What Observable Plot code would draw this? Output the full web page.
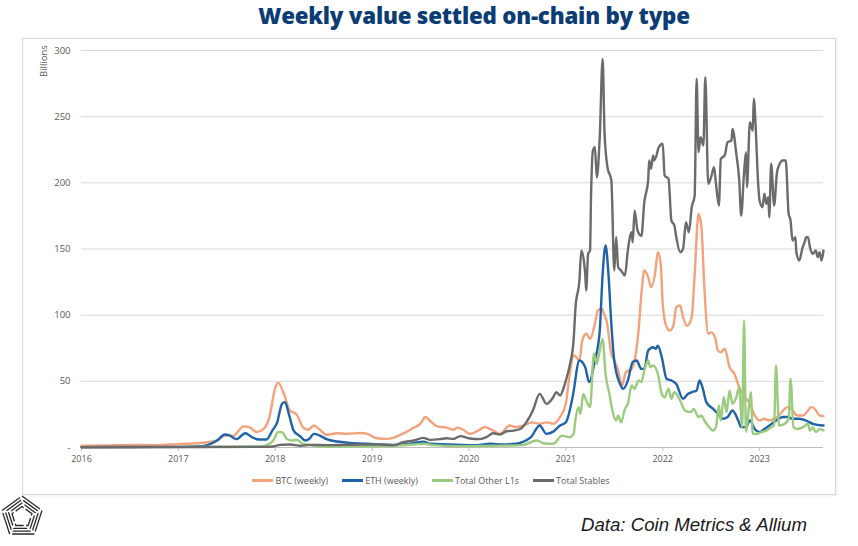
<!DOCTYPE html>
<html>
<head>
<meta charset="utf-8">
<script src="https://cdn.jsdelivr.net/npm/d3@7"></script>
<script src="https://cdn.jsdelivr.net/npm/@observablehq/plot@0.6"></script>
<style>
  html, body { margin: 0; padding: 0; background: #ffffff; }
  #wrap { position: relative; width: 858px; height: 546px; overflow: hidden; font-family: "Open Sans", sans-serif; }
  #frame { position: absolute; left: 22px; top: 38px; width: 812px; height: 455px; border: 1px solid #D9D9D9; box-shadow: 1px 1px 2px rgba(0,0,0,0.08); }
  #title { position: absolute; left: 90px; width: 768px; top: 0px; text-align: center; font-family: "Open Sans", sans-serif; font-weight: 800; font-size: 22.3px; color: #0B3C74; letter-spacing: -0.2px; }
  #chart { position: absolute; left: 0; top: 0; }
  #ylabel { position: absolute; left: 37px; top: 53px; font-size: 9.5px; color: #595959; transform-origin: left top; transform: translate(0, 24px) rotate(-90deg); white-space: nowrap; }
  #legend { position: absolute; top: 474px; left: 0; width: 862px; display: flex; justify-content: center; gap: 14px; font-size: 9px; color: #595959; }
  .item { display: flex; align-items: center; gap: 2px; }
  .swatch { width: 21px; height: 3px; }
  #caption { position: absolute; left: 578px; top: 507px; }
  #logo { position: absolute; left: 0; top: 492px; }
</style>
</head>
<body>
<div id="wrap">
  <div id="frame"></div>
  <div id="title">Weekly value settled on-chain by type</div>
  <div id="chart"></div>
  <div id="ylabel">Billions</div>
  <div id="legend"></div>
  <svg id="caption" width="240" height="34"><text x="3" y="24" font-family="'Liberation Sans Narrow', 'Arial Narrow', 'Liberation Sans', sans-serif" font-style="italic" font-size="19" fill="#1a1a1a" textLength="226" lengthAdjust="spacingAndGlyphs">Data: Coin Metrics &amp; Allium</text></svg>
  <svg id="logo" width="48" height="50" viewBox="0 0 48 50"></svg>
</div>
<script>
// ---- data (decimal year, billions USD) ----
const seriesNames = ["BTC (weekly)", "ETH (weekly)", "Total Other L1s", "Total Stables"];
const seriesColors = ["#F4A27B", "#1F62A8", "#9ACB7E", "#6B6B6B"];
const yearTicks = [2016, 2017, 2018, 2019, 2020, 2021, 2022, 2023];
const valueTicks = [0, 50, 100, 150, 200, 250, 300];

const btc = [
[2016.00,1.3],[2016.25,1.6],[2016.5,2],[2016.75,1.8],[2017.0,2.5],[2017.15,3],[2017.3,4],[2017.4,5.3],
[2017.48,9],[2017.57,9],[2017.67,16],[2017.74,15],[2017.81,11.6],[2017.88,14],[2017.94,23],[2018.0,45],
[2018.03,49],[2018.09,40.5],[2018.15,28],[2018.22,25],[2018.29,15],[2018.34,13.4],[2018.4,16.6],[2018.46,13.4],
[2018.53,9.6],[2018.64,10.8],[2018.74,10.3],[2018.88,11],[2018.95,10.3],[2019.05,7],[2019.15,6.5],[2019.22,7.3],
[2019.29,9.5],[2019.36,12],[2019.43,15],[2019.5,18],[2019.55,23],[2019.6,20],[2019.67,16],[2019.77,15],
[2019.84,13.4],[2019.88,15],[2019.94,13.4],[2020.01,10.3],[2020.1,13],[2020.16,15.4],[2020.25,12.8],[2020.32,10.3],
[2020.42,16.6],[2020.49,15.4],[2020.56,16.6],[2020.65,19],[2020.73,17.9],[2020.8,19],[2020.87,18],[2020.94,23],
[2021.0,33],[2021.03,50],[2021.07,68],[2021.09,69.5],[2021.14,65.7],[2021.17,80.9],[2021.21,86],[2021.25,82],
[2021.3,93.5],[2021.33,103.5],[2021.37,104.8],[2021.4,99.7],[2021.42,96],[2021.47,70.8],[2021.5,65.7],[2021.54,58.2],
[2021.58,46.9],[2021.62,57],[2021.68,59.4],[2021.71,65.7],[2021.75,88],[2021.78,116],[2021.81,133.8],[2021.85,128.7],
[2021.88,121],[2021.92,131],[2021.95,147.6],[2021.98,138.8],[2022.0,108.6],[2022.04,91],[2022.07,88.4],[2022.11,92],
[2022.14,106],[2022.18,107.3],[2022.21,98.5],[2022.25,92],[2022.3,98.5],[2022.33,131],[2022.37,176.6],[2022.4,166.5],
[2022.43,121],[2022.47,86],[2022.5,87],[2022.54,83.4],[2022.57,73.3],[2022.6,72],[2022.64,74.6],[2022.69,60.7],
[2022.74,55.7],[2022.79,45.6],[2022.85,38],[2022.9,33],[2022.95,24.2],[2023.0,20.4],[2023.05,21.7],[2023.1,20.4],
[2023.15,21.7],[2023.2,24.2],[2023.26,29.2],[2023.29,30.5],[2023.34,28],[2023.39,24.2],[2023.45,24.2],[2023.5,28],
[2023.53,30.5],[2023.57,29.2],[2023.62,24.2],[2023.66,23.7]
];

const eth = [
[2016.0,0.3],[2016.5,0.4],[2017.0,0.5],[2017.2,0.7],[2017.3,1.8],[2017.4,5.3],[2017.48,9.8],[2017.52,9.3],
[2017.6,6.3],[2017.69,10.8],[2017.76,7.8],[2017.83,6],[2017.91,6],[2017.97,12.8],[2018.02,19],[2018.07,33],
[2018.1,34.3],[2018.14,25.4],[2018.19,12.8],[2018.26,8.3],[2018.31,5.3],[2018.35,6.5],[2018.4,10.3],[2018.46,9],
[2018.53,6.3],[2018.64,4.5],[2018.77,3.5],[2018.95,2.8],[2019.22,2],[2019.43,3.3],[2019.53,4.3],[2019.6,2.8],
[2019.91,2],[2020.08,1.8],[2020.22,2.8],[2020.35,2.3],[2020.49,2.8],[2020.55,4],[2020.64,7.8],[2020.73,16.6],
[2020.8,10.3],[2020.87,12],[2020.94,16.6],[2021.0,19],[2021.07,38],[2021.14,65.7],[2021.2,60.7],[2021.24,49.4],
[2021.3,65.7],[2021.35,88],[2021.38,131],[2021.41,152.6],[2021.44,131],[2021.47,93],[2021.5,65.7],[2021.56,48],
[2021.59,44.3],[2021.64,50.6],[2021.69,64.5],[2021.73,65.7],[2021.78,59.4],[2021.81,59.4],[2021.85,73.3],[2021.9,75.8],
[2021.93,74.6],[2021.95,77],[2021.99,68.3],[2022.04,51.9],[2022.09,50.6],[2022.14,48],[2022.21,36.8],[2022.26,40.5],
[2022.3,41.8],[2022.35,43],[2022.38,50.6],[2022.41,45.6],[2022.45,34.3],[2022.52,29.2],[2022.57,25.4],[2022.62,21.7],
[2022.67,23],[2022.72,28],[2022.78,20.4],[2022.81,15.4],[2022.86,15.4],[2022.9,20.4],[2022.95,14],[2023.0,11.6],
[2023.05,14],[2023.1,16.6],[2023.17,20.4],[2023.24,23],[2023.29,23],[2023.34,21.7],[2023.41,21.7],[2023.48,20.4],
[2023.55,17.9],[2023.66,16.6]
];

const otherL1s = [
[2016.0,0.2],[2017.0,0.3],[2017.85,0.8],[2017.91,1.8],[2017.98,5.3],[2018.03,11.6],[2018.07,11.6],[2018.12,6.5],
[2018.17,5.3],[2018.22,5.8],[2018.29,2.8],[2018.4,1.5],[2018.53,0.8],[2019.0,1],[2019.43,2.3],[2019.53,2.8],
[2019.63,1.8],[2019.9,1],[2020.25,1.3],[2020.55,1.8],[2020.7,5.3],[2020.78,3],[2020.87,2.8],[2020.96,9],
[2021.04,7.8],[2021.08,10.3],[2021.1,21.7],[2021.13,30.5],[2021.15,25.4],[2021.18,40.5],[2021.21,35.5],[2021.25,30.5],
[2021.29,70.8],[2021.32,63.2],[2021.34,69.5],[2021.38,82],[2021.41,55.7],[2021.45,40.5],[2021.48,28],[2021.52,20.4],
[2021.54,24.2],[2021.57,19],[2021.61,29.2],[2021.64,33],[2021.68,46.9],[2021.71,44.3],[2021.75,50.6],[2021.78,49.4],
[2021.81,58.2],[2021.85,65.7],[2021.87,60.7],[2021.9,62],[2021.95,55.7],[2021.99,40.5],[2022.02,38],[2022.06,44.3],
[2022.09,36.8],[2022.12,41.8],[2022.18,35.5],[2022.23,28],[2022.29,26.7],[2022.32,29.2],[2022.37,23],[2022.4,24.2],
[2022.43,20.4],[2022.48,15.4],[2022.52,12.8],[2022.55,15.4],[2022.58,31.7],[2022.6,20.4],[2022.63,38],[2022.66,26.7],
[2022.69,43],[2022.72,33],[2022.76,38],[2022.79,45.6],[2022.82,15.4],[2022.84,96],[2022.86,11.6],[2022.89,30.5],
[2022.91,41.8],[2022.93,10.3],[2022.97,10.3],[2023.02,11.6],[2023.07,12.8],[2023.12,15.4],[2023.15,16.6],[2023.17,62],
[2023.2,16.6],[2023.26,17.9],[2023.3,21.7],[2023.32,51.9],[2023.35,15.4],[2023.39,14],[2023.45,15.4],[2023.5,17.9],
[2023.52,12.8],[2023.55,15.4],[2023.58,11.6],[2023.62,14],[2023.66,12.8]
];

const stables = [
[2016.0,0.2],[2017.0,0.3],[2017.9,0.5],[2017.98,0.8],[2018.05,2],[2018.15,2.3],[2018.26,1.3],[2018.36,2],
[2018.53,1.8],[2018.7,2],[2018.88,2.3],[2019.05,2.3],[2019.22,1.8],[2019.32,4],[2019.43,5.3],[2019.53,7.3],
[2019.6,5.8],[2019.7,6.3],[2019.77,7],[2019.84,6.5],[2019.91,8.6],[2020.01,6.8],[2020.11,6.3],[2020.18,7.8],
[2020.25,10.8],[2020.32,9.8],[2020.39,12.3],[2020.46,12.8],[2020.53,14],[2020.6,20],[2020.66,28],[2020.73,40.5],
[2020.8,33],[2020.87,38],[2020.9,41.8],[2020.94,39.3],[2020.98,45.6],[2021.0,50.6],[2021.04,62],[2021.08,81],
[2021.1,106],[2021.14,126],[2021.16,148.9],[2021.2,131],[2021.21,118.6],[2021.23,146.3],[2021.25,148.9],[2021.26,189],
[2021.28,224.4],[2021.3,227],[2021.32,204],[2021.35,234.5],[2021.38,293.7],[2021.4,237],[2021.43,211.8],[2021.47,201.8],
[2021.5,133.8],[2021.52,159],[2021.54,136.3],[2021.57,133.8],[2021.61,130],[2021.64,148.9],[2021.68,162.7],[2021.69,155],
[2021.71,179],[2021.74,164],[2021.78,160],[2021.81,185.4],[2021.85,201.8],[2021.86,216.9],[2021.88,210.6],[2021.9,220.7],
[2021.91,216.9],[2021.93,219.4],[2021.96,227],[2022.0,229.5],[2022.02,205.5],[2022.06,203],[2022.09,171.5],[2022.12,167.8],
[2022.14,159],[2022.18,147.6],[2022.21,150],[2022.24,170.3],[2022.27,162.7],[2022.3,181.6],[2022.33,190.4],[2022.35,278.6],
[2022.37,223.2],[2022.39,234.5],[2022.42,228.2],[2022.44,279.8],[2022.47,199.2],[2022.5,204.3],[2022.53,211.8],[2022.55,199.2],
[2022.58,182.9],[2022.6,218.1],[2022.64,220.7],[2022.67,230.7],[2022.71,232],[2022.72,240.8],[2022.76,221.9],[2022.79,201.8],
[2022.81,175.3],[2022.84,208],[2022.86,223.2],[2022.87,196.7],[2022.9,245.8],[2022.93,239.5],[2022.94,263.5],[2022.96,242],
[2022.98,206.8],[2023.0,186.6],[2023.03,181.6],[2023.05,191.7],[2023.07,184.1],[2023.09,189.2],[2023.1,174],[2023.12,214.4],
[2023.15,182.9],[2023.18,208],[2023.2,213],[2023.24,216.9],[2023.27,216.9],[2023.3,176.6],[2023.32,171.5],[2023.34,156.4],
[2023.37,159],[2023.38,147.6],[2023.41,141.3],[2023.44,150],[2023.47,156.4],[2023.48,159],[2023.5,159],[2023.52,151.4],
[2023.55,146.3],[2023.58,148.9],[2023.6,143.8],[2023.62,147.6],[2023.64,141.3],[2023.66,148.9]
];

const allSeries = [btc, eth, otherL1s, stables];

const lineMarks = allSeries.map((s, i) =>
  Plot.line(s, {x: d => d[0], y: d => d[1], stroke: seriesColors[i], strokeWidth: 2.4, curve: "monotone-x"})
);

const chart = Plot.plot({
  width: 858,
  height: 546,
  marginLeft: 81,
  marginRight: 35,
  marginTop: 50,
  marginBottom: 99,
  x: {type: "linear", domain: [2016, 2023.66]},
  y: {domain: [0, 300]},
  style: {background: "transparent", fontFamily: "'Open Sans', sans-serif", fontSize: "9px", color: "#595959"},
  marks: [
    Plot.gridY(valueTicks, {stroke: "#D9D9D9", strokeOpacity: 1, strokeWidth: 1}),
    Plot.axisY(valueTicks, {tickSize: 0, tickPadding: 11, tickFormat: d => d === 0 ? "-" : String(d), label: null, fontSize: 9.5}),
    Plot.ruleY([0], {stroke: "#BFBFBF"}),
    Plot.axisX(yearTicks, {tickSize: 4, tickPadding: 4, tickFormat: d => String(d), label: null, stroke: "#BFBFBF"}),
    ...lineMarks
  ]
});
document.getElementById("chart").appendChild(chart);

// legend
const legend = document.getElementById("legend");
seriesNames.forEach((name, i) => {
  const it = document.createElement("div");
  it.className = "item";
  const sw = document.createElement("div");
  sw.className = "swatch";
  sw.style.background = seriesColors[i];
  const tx = document.createElement("span");
  tx.textContent = name;
  it.appendChild(sw); it.appendChild(tx);
  legend.appendChild(it);
});

// decorative logo: nested pentagon outlines with small breaks
const logo = d3.select("#logo");
const cx = 22, cy = 25;
[21, 17.5, 14, 10.5].forEach((r, j) => {
  const pts = d3.range(6).map(k => {
    const a = -Math.PI / 2 + k * 2 * Math.PI / 5;
    return [cx + r * Math.cos(a), cy + r * Math.sin(a)];
  });
  const perim = 5 * 2 * r * Math.sin(Math.PI / 5);
  logo.append("polyline").attr("points", pts.map(p => p.join(",")).join(" "))
    .attr("fill", "none").attr("stroke", "#2a2a2a").attr("stroke-width", 1.3)
    .attr("stroke-dasharray", `${perim / 5 - 2.5} 2.5`)
    .attr("stroke-dashoffset", -(j * 1.5));
});
</script>
</body>
</html>
